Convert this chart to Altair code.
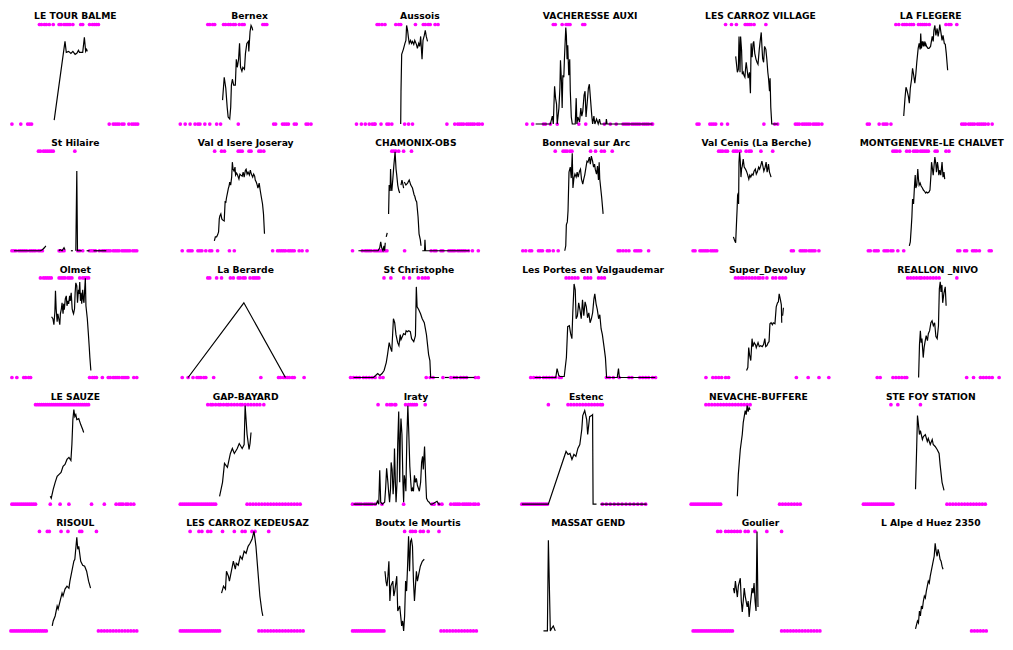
import altair as alt
import pandas as pd

STATIONS = [
    "LE TOUR BALME", "Bernex", "Aussois", "VACHERESSE AUXI", "LES CARROZ VILLAGE", "LA FLEGERE",
    "St Hilaire", "Val d Isere Joseray", "CHAMONIX-OBS", "Bonneval sur Arc", "Val Cenis (La Berche)", "MONTGENEVRE-LE CHALVET",
    "Olmet", "La Berarde", "St Christophe", "Les Portes en Valgaudemar", "Super_Devoluy", "REALLON _NIVO",
    "LE SAUZE", "GAP-BAYARD", "Iraty", "Estenc", "NEVACHE-BUFFERE", "STE FOY STATION",
    "RISOUL", "LES CARROZ KEDEUSAZ", "Boutx le Mourtis", "MASSAT GEND", "Goulier", "L Alpe d Huez 2350",
]

# Day positions of the "snow" markers (top row) and "no snow" markers (bottom row)
TOP_DAYS = [
    [37,39,42,44,47,51,57,59,62,64,66,68,71,79,81,88,91,93,95,97],
    [31,33,36,38,47,49,52,54,57,59,63,66,68,87,89,91],
    [30,32,35,38,49,52,54,69,77,79,82,84,89,92],
    [36,38,45,49,51,53,66,68],
    [38,44,49,58,60,62,64,67,79],
    [38,41,45,47,49,52,54,56,61,63,65,67,69,72,89,92,94,100],
    [36,38,41,43,45,47,49,51,73],
    [42,49,52,66,68,70,77,79,87,89,92],
    [49,51,53,56,61,69],
    [42,50,52,54,57,59,78,83,89,92,100],
    [35,37,39,42,44,50,52,54,57,63,66,68,78,90],
    [34,36,38,41,48,51,55,57,59,62,64,66,68,70,77,79,88,91],
    [38,41,43,45,47,49,57,59,61,63,66,68,70,78,81,83,85,87],
    [35,37,44,49,58,61,66,68,71,73,78,81,83,85,87],
    [38,45,58,64,73,77,80,83],
    [46,49,52,55,58,65,68,71,79,82,85],
    [41,44,47,49,52,55,58,61,64,66,69,73,79,82,86,89,92],
    [43,46,49,52,55,57,60,63,66,69,72,75,93],
    [33,35,37,39,41,43,45,47,49,51,53,55,57,59,61,63,65,67,69,71,73,75,77,79,81,83,85,87],
    [35,38,40,43,46,48,51,54,56,59,62,65,68,70,73,76,79,82,85,88,92],
    [35,44,47,49,52,53,63,66,68,70,72,74,83],
    [35,55,58,61,64,67,70,73,76,79,82,85,88,90],
    [20,23,26,29,32,35,38,41,44,47,50,53,56,59,62,65],
    [33,40,63],
    [37,45,47,59,66,78,80,95],
    [15,24,27,33,36,48,60,68,71,78,81,95],
    [60,66,68,71,76,79,84,95],
    [],
    [30,33,38,41,44,47,50,53,58,61,68,80,95],
    [],
]

BOTTOM_DAYS = [
    [9,18,25,27,29,108,112,114,116,118,121,123,128,131,133,135,137],
    [3,8,13,18,21,23,28,33,40,44,62,98,100,107,109,111,113,119,121,131,133,136],
    [9,14,18,22,25,27,28,34,40,42,45,58,62,66,101,109,112,114,116,118,121,123,125,127,129,132,134,137],
    [9,15,26,28,33,40,62,69,88,94,100,107,109,111,113,116,118,120,122,124,127,129,131,133,136,137],
    [9,11,22,24,26,28,34,40,77,88,91,109,111,113,116,118,120,122,124,127,129,131,133,136],
    [9,11,21,25,27,29,33,105,107,109,112,114,116,118,121,123,125,127,129,132,136],
    [9,11,13,16,18,20,22,24,27,29,31,33,36,38,40,57,58,60,62,76,78,81,88,90,92,94,98,101,103,105,107,109,112,114,116,118,121,123,125,127,129,132,134,136],
    [9,15,17,19,25,27,29,33,37,39,45,57,62,101,106,108,110,112,114,117,119,121,123,128,131,136],
    [9,19,22,24,26,28,31,33,35,37,39,42,44,62,89,92,94,99,101,107,109,111,113,116,118,120,122,124,127,131,137],
    [9,12,16,18,25,27,29,34,36,40,45,106,108,111,114,117,123,125,127,129,137],
    [9,11,16,18,20,22,24,27,29,31,33,109,111,118,120,122,124,127,129,131,133,137],
    [9,11,15,17,19,25,27,29,32,34,39,45,100,102,107,109,115,117,119,122,132,134],
    [9,14,21,23,26,28,88,91,93,95,101,107,109,112,114,116,118,121,123,125,127,133,136],
    [9,15,20,24,26,28,31,33,41,89,107,109,112,114,116,118,121,123,133],
    [4,7,10,13,17,20,23,26,29,34,37,81,85,88,98,106,109,112,116,119,122,131,134],
    [10,13,16,19,23,26,29,32,35,39,41,87,90,94,100,110,113,121,124,127,130,134,137],
    [11,18,21,24,27,31,34,103,115,126,136],
    [12,15,28,31,34,37,40,42,103,110,117,120,123,126,129,136],
    [9,11,13,15,17,19,21,23,25,27,29,31,33,48,58,67,90,103,115,118,120,122,125,127,130,133],
    [7,9,11,13,15,17,19,21,23,25,27,29,31,33,35,37,39,41,43,75,78,81,84,87,90,93,96,99,102,105,108,111,114,117,120,123,126,129],
    [9,12,14,16,18,21,23,25,27,29,32,39,61,90,92,97,100,109,112,114,116,118,121,123,125,127,129,132,134,137],
    [8,10,12,14,16,18,20,22,24,26,28,30,32,34,90,94,98,102,106,110,114,118,122,126,130,134],
    [5,7,9,11,13,15,17,19,21,23,25,27,29,31,33,35,95,98,101,104,107,110,113,116],
    [5,7,9,11,13,15,17,19,21,23,25,27,29,31,33,35,90,93,96,99,102,105,108,111,114,117,120,123,126,129],
    [8,10,12,14,16,18,20,22,24,26,28,30,32,34,36,38,40,42,44,97,100,103,106,109,112,115,118,121,124,127,130,133,136],
    [5,7,9,11,13,15,17,19,21,23,25,27,29,31,33,35,37,39,41,43,45,85,88,91,94,97,100,103,106,109,112,115,118,121,124,127,130],
    [7,9,11,13,15,17,19,21,23,25,27,29,31,33,35,37,39,97,100,103,106,109,112,115,118,121,124,127,130,133],
    [],
    [5,7,9,11,13,15,17,19,21,23,25,27,29,31,33,35,37,39,41,43,45,95,98,101,104,107,110,113,116,119,122,125,128,131,134],
    [115,118,121,124,127,130],
]

# Normalised snow depth series, as a list of unbroken segments of [day, value]
SNOW_DEPTH = [
    [[[52,.04],[63,.83],[64.3,.72],[66.7,.73],[69,.71],[71,.73],[73.3,.70],[75,.71],[76.7,.74],[77.7,.72],[79,.72],[81,.72],[82.7,.87],[84,.73],[85,.75],[85.7,.73]]],
    [[[46,.24],[47.7,.47],[49.3,.36],[50.7,.17],[51.7,.07],[53.3,.05],[54.3,.17],[55,.39],[56,.45],[57.3,.39],[59,.39],[60,.65],[61,.57],[62.3,.65],[63.3,.81],[64.3,.57],[65.7,.53],[66.7,.57],[68.3,.55],[69.3,.71],[70.7,.81],[72.3,.83],[72.7,.73],[74,.93],[75,.99],[76,.97],[76.7,.94]]],
    [[[54,0],[54.3,.33],[55,.70],[56.7,.75],[58.3,.81],[59.3,.84],[60,.99],[61,.94],[61.7,.88],[62.7,.81],[64,.84],[65,.81],[66,.83],[67.3,.80],[68.3,.84],[70,.80],[71,.76],[72.3,.81],[73.3,.78],[74.3,.88],[75.7,.65],[76.7,.84],[78,.89],[79,.94],[80,.88],[81.3,.83]]],
    [[[18,0],[33,0],[35,.08],[36,0],[37.3,.38],[38.3,.26],[39.3,.20],[40,0],[41.7,.16],[42.7,.36],[43.3,.64],[44.3,.42],[45,.16],[45.7,.49],[46.7,.47],[47.3,.65],[48,.81],[48.7,.97],[49.3,.89],[50,.65],[50.7,.79],[51.7,.49],[52.7,.65],[53.3,.33],[54.3,.07],[55.3,0],[58.3,0],[59.3,.26],[60,0],[61,.07],[62.7,.02],[64,.16],[65,.08],[66,.13],[67.3,.29],[68.3,.33],[69.3,.07],[71.7,.36],[72.7,.40],[74,.23],[75,.10],[76,0],[77.3,.08],[78.3,0],[80,.05],[81.7,0],[83,.05],[84,0],[89.5,0],[90,.05],[90.7,0],[137,0]]],
    [[[48.3,.68],[50,.52],[51,.55],[51.7,.88],[52.7,.52],[53.3,.88],[54.3,.74],[55,.50],[56,.52],[56.7,.49],[57.7,.47],[58.3,.55],[59,.62],[60,.54],[61,.46],[62.3,.52],[63.3,.31],[64,.81],[65,.67],[66,.81],[66.7,.83],[67.7,.71],[69,.65],[70,.62],[71,.60],[72.3,.75],[73.3,.84],[74.3,.92],[75,.78],[75.7,.66],[76.7,.62],[77.7,.78],[79,.75],[80,.65],[81,.52],[81.7,.46],[82.7,.33],[83.3,.46],[84,.17],[85,0],[86.7,0],[89,0],[91,0]]],
    [[[46,.08],[47.3,.26],[48.3,.37],[49.3,.34],[50.7,.28],[51.7,.21],[52.7,.36],[54,.45],[55,.56],[56,.50],[57.3,.41],[58.3,.50],[59.3,.62],[60.7,.76],[61.7,.81],[62.7,.75],[63.3,.91],[64,.76],[65,.83],[66,.78],[66.7,.83],[67.7,.78],[68.3,.81],[69.3,.78],[70.7,.76],[71.7,.76],[73.3,.78],[75,.88],[76,.83],[76.7,.94],[77.7,.99],[78.7,.89],[80,.96],[81,.88],[82,.94],[82.7,1.0],[84,.91],[85,.84],[86,.89],[87.3,.81],[88.3,.80],[89.3,.71],[90.7,.54]]],
    [[[11,0],[38,0],[40,.01],[42,.03],[43.5,.05]], [[56.7,0],[58,.01],[60,0],[62,.03],[63,.01]], [[69,0],[71,0]], [[74,0],[75,.8],[75.7,0],[77,0],[80,0]], [[85,0],[88,0]], [[92,0],[105,0]]],
    [[[41.7,.10],[42.7,.14],[44,.14],[45,.16],[46,.19],[46.7,.32],[47.3,.35],[48.3,.37],[49.3,.32],[50,.31],[51.7,.30],[52.7,.50],[53.3,.48],[54,.53],[55,.58],[56,.63],[56.7,.65],[57.3,.69],[58.3,.66],[59.3,.74],[60,.89],[60.7,.82],[61.7,.80],[62.7,.84],[63.3,.76],[64.3,.78],[65.3,.76],[66.7,.72],[67.7,.77],[68.7,.76],[70,.75],[71,.79],[72,.74],[73.3,.81],[74,.82],[75,.77],[76,.79],[77.3,.76],[78.3,.81],[79.3,.77],[80.7,.74],[81.7,.77],[82.7,.75],[83.3,.71],[84.3,.69],[85.3,.66],[86,.63],[87.3,.68],[88.3,.61],[89.3,.55],[90.7,.47],[91.7,.37],[92.7,.17]]],
    [[[15,0],[35,0],[36.7,.03],[37.7,.09],[38.7,.03],[40,0],[41,.05],[41.7,0],[42.3,.08]], [[43.3,.14],[44.3,.18]], [[45.7,.37],[46.3,.66],[47.3,.60],[47.7,.82],[48.3,.66],[49,.60],[50,.72],[51,.85],[52.3,.995],[53.3,.82],[54,.76],[55,.66],[56,.61],[57,.58]], [[58.3,.66],[59.3,.71],[60,.68],[61,.63]], [[61.7,.69],[63.3,.66],[65,.68],[66.7,.71],[68.3,.66],[70,.63],[71.7,.56],[72.3,.55],[73.3,.51],[74.3,.49],[75.7,.34],[76.7,.17],[78,.11],[78.7,.05]], [[80,0],[82.3,0],[82.7,.11],[83.3,0],[128,0]]],
    [[[51.7,0],[52.7,.05],[53.3,.26],[54.3,.29],[55,.40],[56,.79],[57.3,.84],[58.3,.73],[59.3,.98],[60,.63],[61,.73],[62,.77],[63.3,.74],[64.3,.79],[65.3,.74],[66.7,.80],[67.7,.82],[68.7,.72],[70,.67],[71,.72],[72,.76],[73.3,.84],[74.3,.90],[75.3,.89],[76.7,.94],[77.7,.87],[78.7,.95],[80,.90],[81,.84],[82,.87],[82.7,.82],[84,.77],[85,.85],[86,.71],[86.7,.89],[87.3,.72],[89.3,.53],[90.7,.37]]],
    [[[50,.14],[51,.11],[52.3,.08],[53.3,.31],[53.7,.40],[54.3,.56],[55,.58],[55.3,.47],[55.7,.89],[56.3,.99],[57,.90],[57.7,.74],[58.3,.82],[59,.85],[60,.92],[61,.84],[62.3,.82],[63.3,.80],[64.3,.77],[65.7,.72],[66.7,.76],[67.7,.74],[69,.77],[70,.76],[71,.80],[72.3,.82],[73.3,.77],[74.3,.79],[75.7,.84],[76.7,.82],[77.7,.85],[79,.90],[80,.85],[81,.80],[82.3,.84],[83.3,.89],[84.3,.79],[85,.82],[85.7,.87],[86.7,.79],[87.7,.76],[88.3,.74]]],
    [[[50.7,.05],[51.7,.09],[52.7,.24],[53.3,.34],[54,.52],[55,.47],[56,.66],[56.7,.76],[57.3,.63],[58.3,.66],[59.3,.82],[60,.72],[60.7,.66],[61.7,.68],[62.7,.65],[64,.63],[65,.61],[66,.60],[67.3,.58],[68.3,.59],[69.3,.58],[70.7,.59],[71.7,.61],[72.7,.76],[73.3,.89],[74,.84],[75,.76],[76,.87],[76.7,.94],[77.7,.87],[78.3,.79],[79.3,.89],[80,.84],[80.7,.76],[81.7,.81],[82.7,.76],[84,.89],[85,.74],[86,.79],[86.7,.72]]],
    [[[49.3,.61],[50.7,.59],[51.7,.53],[52.7,.66],[53.3,.87],[54,.69],[55,.56],[55.7,.64],[56.7,.59],[57.7,.53],[58.3,.64],[59.3,.69],[60,.75],[61,.64],[61.7,.74],[62.3,.68],[63.3,.79],[64.3,.82],[65,.72],[66,.77],[66.7,.74],[67.7,.82],[68.3,.77],[69.3,.85],[70.3,.69],[71,.66],[71.7,.64],[72.7,.69],[73.3,.85],[74,.95],[75,.92],[75.7,.75],[76.7,.88],[77.3,.84],[78,.96],[78.7,.77],[79.3,.85],[80,.74],[81,.88],[81.7,.78],[82.3,.75],[83,.88],[83.7,.997],[84.3,.72],[85.7,.59],[86.7,.45],[87.7,.30],[88.3,.20],[89.3,.07]]],
    [[[15,0],[71.7,.75],[114,0]]],
    [[[7,0],[27.3,0],[29.5,.02],[31.6,.04],[33.8,.02],[36,.04],[38.1,.07],[40.3,.15],[41.6,.23],[43.3,.35],[44.6,.30],[45.9,.26],[47.6,.59],[48.9,.55],[50.2,.43],[51.9,.35],[53.2,.32],[54.5,.43],[55.3,.38],[56.6,.41],[57.9,.44],[59.7,.43],[60.5,.47],[61.8,.46],[63.1,.47],[64.8,.46],[66.1,.39],[68.3,.36],[70,.42],[70.9,.91],[71.7,.71],[73.4,.68],[75.2,.64],[76.9,.59],[79,.55],[81.2,.43],[83.4,.23],[84.7,.17],[85.5,0],[87.7,0],[94,0]], [[100,0],[104,0]], [[108,0],[130,0]]],
    [[[14,0],[35.5,0],[36.8,.09],[38.5,.02],[39.8,.01],[44.1,.01],[46.3,.20],[47.6,.51],[49.3,.52],[50.6,.44],[51.9,.39],[52.8,.65],[54.1,.94],[55.3,.88],[56.2,.59],[57.5,.62],[58.8,.75],[60.1,.68],[61.4,.59],[62.7,.78],[64,.62],[65.3,.76],[66.6,.71],[67.8,.60],[69.1,.65],[70.4,.55],[71.7,.59],[73,.65],[74.3,.79],[75.2,.84],[76.5,.74],[77.8,.68],[79.1,.59],[80.3,.63],[81.6,.49],[82.9,.43],[84.7,.30],[86,.20],[87.2,0],[89.4,0],[98,0],[99.3,.09],[100.2,0],[121.7,0],[136.8,0]]],
    [[[52.3,.07],[53.6,.10],[54.5,.30],[55.3,.23],[56.6,.17],[57.9,.39],[58.8,.31],[60.1,.35],[61.4,.33],[62.2,.30],[64,.35],[65.3,.31],[66.6,.32],[68.3,.31],[69.6,.33],[70.9,.39],[71.8,.31],[73,.32],[74.3,.35],[75.2,.36],[76.1,.54],[77.3,.55],[78.6,.53],[79.5,.55],[81.2,.54],[82.5,.71],[83.8,.75],[84.7,.76],[85.5,.84],[86.8,.78],[87.7,.73],[88.1,.55]], [[89.0,.62],[89.8,.70]]],
    [[[54.1,0],[55,.33],[55.9,.47],[56.7,.35],[57.5,.39],[58.8,.20],[59.7,.30],[60.5,.35],[61.8,.42],[63.1,.37],[64,.44],[65.3,.47],[66.6,.55],[67.8,.57],[69.1,.52],[70.4,.55],[71.7,.41],[73,.39],[74.3,.52],[75.2,.89],[76.1,.96],[76.9,.86],[77.8,.93],[78.6,.75],[79.9,.85],[81.2,.91],[82.1,.72]]],
    [[[48,.08],[49,.06],[51,.15],[53,.22],[55,.28],[57,.3],[59,.32],[61,.38],[63,.4],[65,.45],[67,.47],[69,.44],[70,.6],[71,.85],[72,.95],[73,.88],[74,.9],[75,.85],[77,.86],[79,.8],[81,.75],[82,.72]]],
    [[[47,.08],[50,.22],[52,.41],[55,.37],[58,.51],[60,.56],[62,.51],[65,.56],[67,.61],[70,.56],[72,.6],[73,.99],[75,.70],[77,.55],[78,.61],[79,.72]]],
    [[[10,0],[33.3,0],[34.3,.03],[35.7,0],[36.7,.34],[37.7,.02],[39.3,0],[41.7,.02],[42.7,.16],[43.7,.36],[45,.22],[45.7,.13],[46.7,.02],[47.7,.16],[48.3,.42],[49.3,.35],[50.3,.10],[51,.22],[51.7,.56],[52.7,.19],[53.3,.02],[54.3,.22],[55,.61],[56,.93],[57,.22],[57.7,.70],[58.3,.86],[59.3,.70],[60.3,.22],[61,.02],[61.7,.29],[62.7,.22],[63.3,.13],[64.3,.67],[65.3,.99],[66.3,.70],[67.3,.38],[68.3,.22],[69,.13],[70,.16],[71,.13],[72,.29],[73,.22],[74,.26],[75,.19],[76,.16],[77,.13],[78.3,.22],[79.3,.42],[80.3,.48],[81,.35],[82.3,.58],[83.3,.29],[84.3,.06],[85.7,.03],[87,.02],[88.3,0],[90,0],[95,.03],[96.7,0],[98.3,0]]],
    [[[8,0],[35,0],[53,.53],[55,.50],[57,.51],[59,.45],[61,.50],[63,.48],[65,.56],[67,.60],[69,.75],[70,.89],[72,.94],[74,.85],[75,.70],[77,.88],[79,.89],[80,.90],[80.5,0],[84,0]], [[88,0],[135,0]]],
    [[[52,.08],[53,.3],[55,.55],[57,.7],[58,.82],[60,.94],[61,.9],[62,.99],[63,.93],[64,.97],[65,.95]]],
    [[[58,.15],[59,.5],[60,.89],[61,.8],[62,.70],[63,.74],[65,.65],[66,.68],[68,.70],[70,.63],[71,.66],[73,.60],[75,.65],[76,.6],[78,.58],[80,.55],[82,.51],[83,.4],[85,.22],[87,.14]]],
    [[[50,.05],[51,.1],[53,.15],[55,.25],[56,.22],[58,.3],[60,.38],[61,.35],[63,.42],[65,.45],[67,.43],[68,.5],[70,.6],[72,.7],[73,.72],[75,.94],[76,.82],[77,.85],[79,.7],[81,.66],[83,.65],[85,.6],[87,.5],[89,.43]]],
    [[[47,.38],[49,.45],[51,.42],[52,.6],[54,.55],[55,.5],[57,.6],[59,.7],[61,.62],[62,.68],[64,.66],[66,.75],[68,.72],[70,.8],[72,.78],[74,.85],[76,.88],[78,.92],[79,.96],[80,1.0],[81,.93],[82,.85],[84,.6],[86,.35],[88,.2],[89,.15]]],
    [[[40,.6],[41,.5],[42,.45],[43,.55],[44,.7],[45,.3],[46,.45],[48,.5],[49,.35],[50,.4],[52,.55],[53,.2],[55,.25],[57,.05],[58,.1],[59,0],[60,.15],[61,.5],[62,.4],[63,.65],[64,.95],[65,.6],[66,.9],[67,.92],[68,.85],[69,.5],[70,.3],[71,.45],[72,.6],[73,.5],[74,.55],[76,.65],[78,.7],[80,.72]]],
    [[[28,0],[32,0],[33,.91],[35,0],[36,.02],[38,.05],[40,0]]],
    [[[46,.43],[47,.38],[48,.5],[50,.34],[51,.45],[53,.53],[54,.3],[55,.19],[56,.3],[57,.43],[58,.35],[60,.24],[61,.3],[62,.14],[63,.25],[65,.43],[66,.38],[67,.48],[68,.3],[69,.2],[70,1.0],[70.5,.6],[71,.24]]],
    [[[58,.02],[59,.06],[60,.1],[61,.08],[62,.2],[63,.15],[64,.25],[65,.22],[66,.3],[67,.35],[68,.33],[69,.4],[70,.45],[71,.5],[72,.48],[73,.55],[74,.6],[75,.65],[76,.7],[77,.75],[78,.88],[79,.8],[80,.75],[81,.82],[82,.78],[83,.72],[84,.7],[85,.65],[86,.62]]],
]

X_DOMAIN = [5, 142]
TITLE_LEVEL = 1.08
Y_TOP = 1.134
Y_BOTTOM_ROWS = -0.139
Y_BOTTOM_LAST = -0.06

rows = []
for st, segs, tops, bots in zip(STATIONS, SNOW_DEPTH, TOP_DAYS, BOTTOM_DAYS):
    for k, seg in enumerate(segs):
        for d, v in seg:
            rows.append({"station": st, "kind": "line", "seg": k, "day": d, "value": v})
    for d in tops:
        rows.append({"station": st, "kind": "dot", "seg": 0, "day": d, "value": 1.0})
    for d in bots:
        rows.append({"station": st, "kind": "dot", "seg": 0, "day": d, "value": 0.0})
    rows.append({"station": st, "kind": "title", "seg": 0,
                 "day": (X_DOMAIN[0] + X_DOMAIN[1]) / 2, "value": TITLE_LEVEL})
df = pd.DataFrame(rows)


def panel(st, last_row):
    ymin = Y_BOTTOM_LAST if last_row else Y_BOTTOM_ROWS
    xs = alt.Scale(domain=X_DOMAIN, nice=False, zero=False)
    ys = alt.Scale(domain=[ymin, Y_TOP], nice=False, zero=False)
    base = alt.Chart(df).transform_filter(alt.datum.station == st).encode(
        x=alt.X("day:Q", scale=xs, axis=None),
        y=alt.Y("value:Q", scale=ys, axis=None),
    )
    dots = base.transform_filter(alt.datum.kind == "dot").mark_circle(
        color="#ff00ff", size=14, opacity=1
    )
    lines = base.transform_filter(alt.datum.kind == "line").mark_line(
        color="black", strokeWidth=1.2
    ).encode(detail="seg:N", order="day:Q")
    titles = base.transform_filter(alt.datum.kind == "title").mark_text(
        font="DejaVu Sans", fontWeight="bold", fontSize=9.3, color="black", baseline="middle"
    ).encode(text="station:N")
    h = 120 if last_row else 128
    return alt.layer(dots, lines, titles).properties(width=136, height=h)


grid_rows = []
for r in range(5):
    cells = [panel(STATIONS[r * 6 + c], r == 4) for c in range(6)]
    grid_rows.append(alt.hconcat(*cells, spacing=36))

chart = alt.vconcat(*grid_rows, spacing=0).properties(padding=0).configure_view(stroke=None)

chart.save("out.html", embed_options={"renderer": "svg", "actions": False})
